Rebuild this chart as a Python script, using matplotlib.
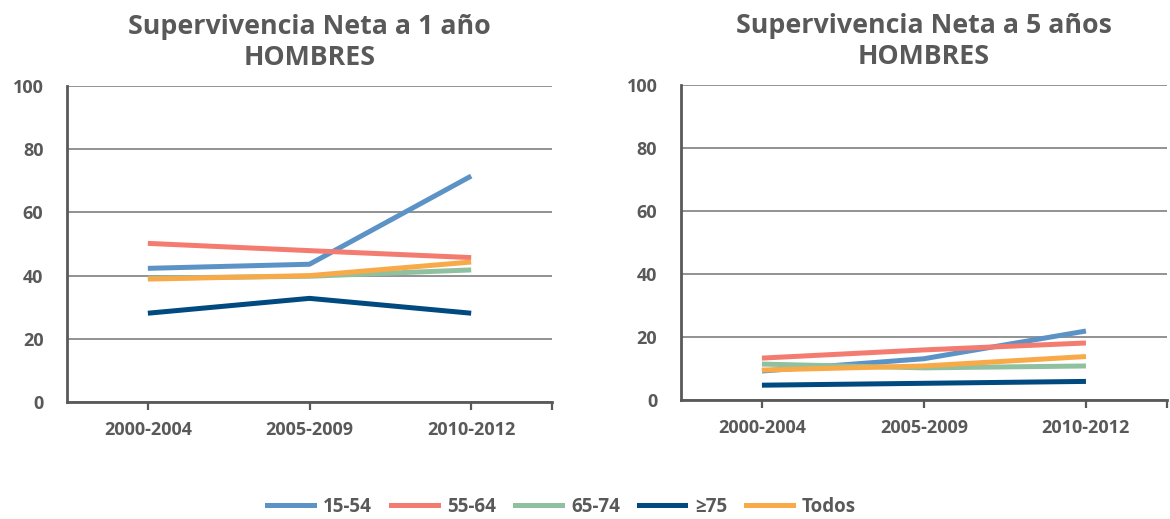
import matplotlib
matplotlib.use("Agg")
import matplotlib.pyplot as plt
from matplotlib.lines import Line2D

plt.rcParams['font.family'] = ['Open Sans', 'DejaVu Sans']
plt.rcParams['font.weight'] = 'bold'

periods = ["2000-2004", "2005-2009", "2010-2012"]
groups = ["15-54", "55-64", "65-74", "≥75", "Todos"]
colors = ["#5b93c6", "#f47b70", "#8fc1a1", "#004a80", "#f9aa48"]

# supervivencia neta a 1 año, hombres
surv_1y = {
    "15-54": [42.3, 43.6, 71.5],
    "55-64": [50.2, 47.9, 45.7],
    "65-74": [39.2, 39.8, 41.8],
    "≥75":   [28.1, 32.8, 28.1],
    "Todos": [38.9, 40.0, 44.3],
}
# supervivencia neta a 5 años, hombres
surv_5y = {
    "15-54": [9.2, 13.1, 21.9],
    "55-64": [13.3, 15.9, 18.1],
    "65-74": [11.4, 10.2, 10.8],
    "≥75":   [4.7, 5.3, 5.9],
    "Todos": [9.5, 10.8, 13.8],
}

text_col = "#595959"
grid_col = "#7f7f7f"

fig = plt.figure(figsize=(11.7, 5.19), dpi=100)
ax1 = fig.add_axes([0.0573, 0.2254, 0.4145, 0.6089])
ax2 = fig.add_axes([0.582, 0.2293, 0.4154, 0.6069])


def draw(ax, data, title):
    x = list(range(len(periods)))
    for g, c in zip(groups, colors):
        ax.plot(x, data[g], color=c, lw=3.6, solid_capstyle='butt', zorder=3)
    ax.set_xlim(-0.5, 2.5)
    ax.set_ylim(0, 100)
    ax.set_yticks([0, 20, 40, 60, 80, 100])
    ax.set_xticks(x)
    ax.set_xticklabels(periods)
    ax.set_xticks([2.5], minor=True)
    ax.tick_params(axis='y', length=0, pad=17, labelsize=13, labelcolor=text_col)
    ax.tick_params(axis='x', which='both', direction='out', length=6, width=1.6,
                   color=text_col, pad=8, labelsize=13, labelcolor=text_col)
    ax.grid(axis='y', color=grid_col, lw=1.2, zorder=0)
    for s in ['top', 'right']:
        ax.spines[s].set_visible(False)
    for s in ['left', 'bottom']:
        ax.spines[s].set_color(text_col)
        ax.spines[s].set_linewidth(2.0)
    ax.set_title(title, fontsize=19.3, fontweight='bold', color=text_col,
                 pad=15, linespacing=1.25)


draw(ax1, surv_1y, "Supervivencia Neta a 1 año\nHOMBRES")
draw(ax2, surv_5y, "Supervivencia Neta a 5 años\nHOMBRES")

handles = [Line2D([], [], color=c, lw=3.6) for c in colors]
fig.legend(handles, groups, loc='center', bbox_to_anchor=(0.48, 0.024), ncol=5,
           frameon=False, handlelength=2.5, columnspacing=1.0, handletextpad=0.5,
           prop={'size': 13.5, 'weight': 'bold'}, labelcolor=text_col)

fig.savefig("out.png", dpi=100)
